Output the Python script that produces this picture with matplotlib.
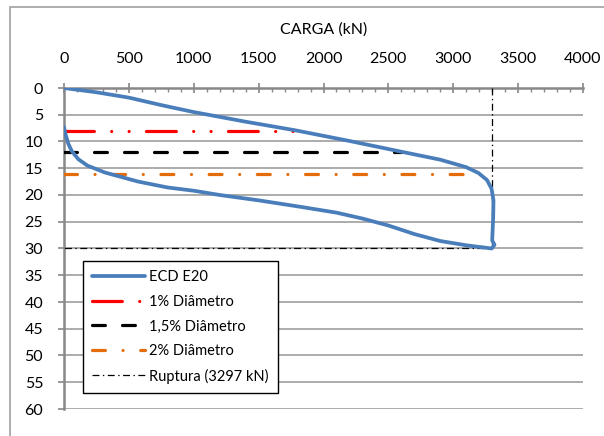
import matplotlib
matplotlib.use('Agg')
import matplotlib.pyplot as plt
from matplotlib.patches import Rectangle
from matplotlib.ticker import MultipleLocator

plt.rcParams['font.family'] = ['Lato', 'DejaVu Sans']
plt.rcParams['lines.scale_dashes'] = False

# prova de carga ECD E20: carga (kN) x recalque (mm)
carga = [0, 250, 500, 750, 1000, 1400, 1781, 2200, 2598, 2900, 3100, 3195,
         3260, 3295, 3310, 3308, 3302, 3300, 3318, 3297,
         3100, 2900, 2700, 2500, 2300, 2100, 1820, 1500, 1200, 1000, 800,
         573, 316, 180, 110, 60, 33, 10, 0]
recalque = [0, 0.8, 1.8, 3.2, 4.5, 6.3, 7.9, 9.9, 11.9, 13.4, 14.8, 15.9,
            17.2, 18.8, 21.0, 24.0, 27.5, 28.5, 29.3, 30.0,
            29.4, 28.6, 27.3, 25.7, 24.4, 23.3, 22.2, 21.0, 20.0, 19.2, 18.6,
            17.5, 15.8, 14.5, 13.3, 11.8, 10.4, 8.5, 7.3]

diam_1 = ([0, 1781], [8, 8])
diam_15 = ([0, 2598], [12, 12])
diam_2 = ([0, 3195], [16, 16])
ruptura = ([3297, 3297, 0], [0, 30, 30])

fig = plt.figure(figsize=(6.04, 4.36), dpi=100)
ax = fig.add_axes([64/604, 1-409/436, (583-64)/604, (409-88)/436])

ax.plot(carga, recalque, color='#4a7ebb', lw=2.7, label='ECD E20', zorder=5,
        solid_capstyle='round', solid_joinstyle='round')
ax.plot(*diam_1, color='#ff0000', lw=2.3, dashes=[21.5, 12.5, 0.01, 12.5, 0.01, 12.5],
        dash_capstyle='round', label='1% Diâmetro', zorder=4)
ax.plot(*diam_15, color='black', lw=2.3, dashes=[9.3, 12.3],
        dash_capstyle='round', label='1,5% Diâmetro', zorder=4)
ax.plot(*diam_2, color='#e46c0a', lw=2.3, dashes=[9.3, 12.7, 0.01, 12.7],
        dash_capstyle='round', label='2% Diâmetro', zorder=4)
ax.plot(*ruptura, color='black', lw=0.9, dashes=[5, 2.5, 1, 2.5],
        label='Ruptura (3297 kN)', zorder=3)

ax.set_xlim(0, 4000)
ax.set_ylim(60, 0)
ax.xaxis.tick_top()
ax.set_xticks(range(0, 4001, 500))
ax.xaxis.set_minor_locator(MultipleLocator(100))
ax.set_yticks(range(0, 61, 5))
ax.tick_params(axis='x', which='major', direction='inout', length=7, width=1.2,
               color='#888888', pad=12, labelsize=11.5)
ax.tick_params(axis='x', which='minor', direction='in', length=3, width=1,
               color='#888888')
ax.tick_params(axis='y', direction='out', length=4, width=1.2, color='#888888',
               pad=11, labelsize=11.5)
ax.yaxis.grid(True, color='#a6a6a6', lw=1.3)
ax.set_axisbelow(True)
for s in ['right', 'bottom']:
    ax.spines[s].set_visible(False)
for s in ['top', 'left']:
    ax.spines[s].set_color('#888888')
    ax.spines[s].set_linewidth(1.8)

fig.text((64+583)/2/604, 1-30/436, 'CARGA (kN)', ha='center', va='center', fontsize=11.5)

leg = ax.legend(loc='upper left', bbox_to_anchor=((83-64)/519, (409-261)/321),
                borderaxespad=0, fontsize=10.5, fancybox=False, framealpha=1,
                edgecolor='black', handlelength=3.6, handletextpad=0.3,
                labelspacing=0.72, borderpad=0.65)
leg.get_frame().set_linewidth(1.0)

fig.patches.append(Rectangle((10/604, -0.1), 2, 1.1-7/436, transform=fig.transFigure,
                             fill=False, edgecolor='#a0a0a0', lw=1.2))

fig.savefig('out.png', dpi=100)
